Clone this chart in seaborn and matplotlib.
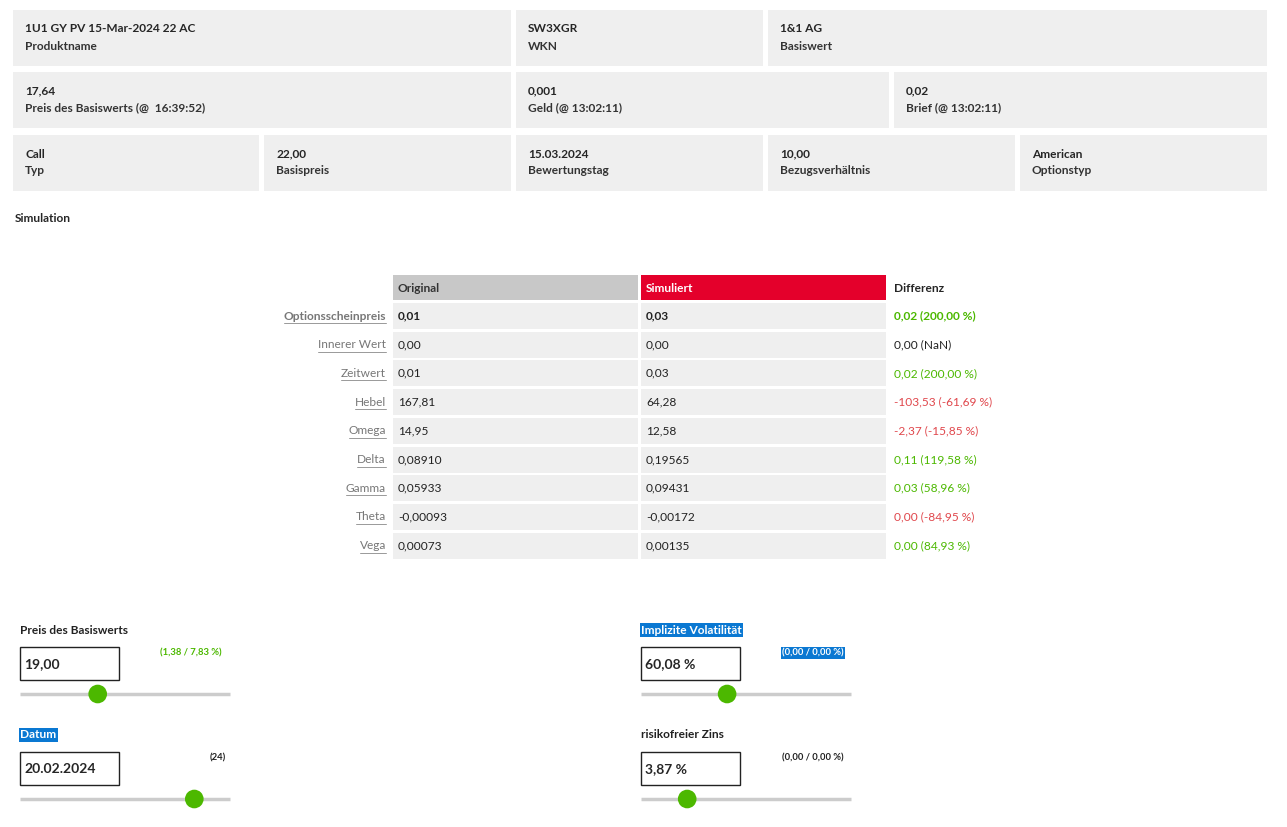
import matplotlib
matplotlib.use("Agg")
import matplotlib.pyplot as plt
import seaborn as sns
import pandas as pd
from matplotlib.patches import Rectangle

sns.set_theme(style="white", font="Lato")

# header info boxes: (value, label) per row
info_row1 = [("1U1 GY PV 15-Mar-2024 22 AC", "Produktname"), ("SW3XGR", "WKN"), ("1&1 AG", "Basiswert")]
info_row2 = [("17,64", "Preis des Basiswerts (@  16:39:52)"), ("0,001", "Geld (@ 13:02:11)"), ("0,02", "Brief (@ 13:02:11)")]
info_row3 = [("Call", "Typ"), ("22,00", "Basispreis"), ("15.03.2024", "Bewertungstag"),
             ("10,00", "Bezugsverhältnis"), ("American", "Optionstyp")]

# simulation table
row_names = ["Optionsscheinpreis", "Innerer Wert", "Zeitwert", "Hebel", "Omega",
             "Delta", "Gamma", "Theta", "Vega"]
original = ["0,01", "0,00", "0,01", "167,81", "14,95", "0,08910", "0,05933", "-0,00093", "0,00073"]
simuliert = ["0,03", "0,00", "0,03", "64,28", "12,58", "0,19565", "0,09431", "-0,00172", "0,00135"]
differenz = ["0,02 (200,00 %)", "0,00 (NaN)", "0,02 (200,00 %)", "-103,53 (-61,69 %)", "-2,37 (-15,85 %)",
             "0,11 (119,58 %)", "0,03 (58,96 %)", "0,00 (-84,95 %)", "0,00 (84,93 %)"]
diff_sign = [1, 0, 1, -1, -1, 1, 1, -1, 1]

# sliders
slider_labels = ["Preis des Basiswerts", "Datum", "Implizite Volatilität", "risikofreier Zins"]
slider_values = ["19,00", "20.02.2024", "60,08 %", "3,87 %"]
slider_changes = ["(1,38 / 7,83 %)", "(24)", "(0,00 / 0,00 %)", "(0,00 / 0,00 %)"]
slider_pos = [0.37, 0.83, 0.41, 0.22]  # fraction along the track

BOX = "#efefef"
GREEN = "#4cb800"
RED = "#e0474c"
BLUE = "#0a78d2"
FS = 8.6

fig = plt.figure(figsize=(12.87, 8.27), dpi=100)
ax = fig.add_axes([0, 0, 1, 1])
ax.set_xlim(0, 1287)
ax.set_ylim(827, 0)
ax.axis("off")


def info_row(items, xs, y0, h=56):
    for (val, lab), (x0, x1) in zip(items, xs):
        ax.add_patch(Rectangle((x0, y0), x1 - x0, h, color=BOX, lw=0))
        ax.text(x0 + 12, y0 + 19, val, fontsize=FS, weight="bold", va="center")
        ax.text(x0 + 12, y0 + 36, lab, fontsize=FS, weight="bold", va="center", color="#333333")


info_row(info_row1, [(13, 511), (516, 763), (768, 1267)], 10)
info_row(info_row2, [(13, 511), (516, 889), (894, 1267)], 72)
info_row(info_row3, [(13, 259), (264, 511), (516, 763), (768, 1015), (1020, 1267)], 135)

ax.text(15, 219, "Simulation", fontsize=FS, weight="bold", va="center")

# table header
ax.add_patch(Rectangle((393, 275), 245, 25, color="#c8c8c8", lw=0))
ax.add_patch(Rectangle((641, 275), 245, 25, color="#e4002b", lw=0))
ax.text(398, 288, "Original", fontsize=FS, weight="bold", va="center", color="#333333")
ax.text(646, 288, "Simuliert", fontsize=FS, weight="bold", va="center", color="white")
ax.text(894, 288, "Differenz", fontsize=FS, weight="bold", va="center")

renderer = fig.canvas.get_renderer()
for i, name in enumerate(row_names):
    yc = 316 + i * 28.7
    w = "bold" if i == 0 else "normal"
    ax.add_patch(Rectangle((393, yc - 13), 245, 26, color=BOX, lw=0))
    ax.add_patch(Rectangle((641, yc - 13), 245, 26, color=BOX, lw=0))
    t = ax.text(386, yc, name, fontsize=FS, ha="right", va="center", color="#777777", weight=w)
    # underline matching the text width
    width = t.get_window_extent(renderer=renderer).width
    ax.plot([386 - width, 386], [yc + 7, yc + 7], color="#999999", lw=0.7)
    ax.text(398, yc, original[i], fontsize=FS, va="center", weight=w, color="#222222")
    ax.text(646, yc, simuliert[i], fontsize=FS, va="center", weight=w, color="#222222")
    col = {1: GREEN, 0: "#222222", -1: RED}[diff_sign[i]]
    ax.text(894, yc, differenz[i], fontsize=FS, va="center", weight=w, color=col)

# sliders
slider_x = [20, 20, 641, 641]
slider_y = [630, 735, 630, 735]
highlight = [False, True, True, False]
chg_x = [160, 210, 782, 782]
dots = pd.DataFrame({"x": [slider_x[k] + slider_pos[k] * 210 for k in range(4)],
                     "y": [slider_y[k] + 64 for k in range(4)]})
for k in range(4):
    x0, y0 = slider_x[k], slider_y[k]
    lab = ax.text(x0, y0, slider_labels[k], fontsize=FS, weight="bold", va="center",
                  color="white" if highlight[k] else "#222222")
    if highlight[k]:
        lab.set_bbox(dict(facecolor=BLUE, edgecolor="none", pad=1))
    ax.add_patch(Rectangle((x0, y0 + 17), 99, 33, fill=False, ec="#222222", lw=1))
    ax.text(x0 + 4, y0 + 34, slider_values[k], fontsize=10, weight="bold", va="center")
    ch = ax.text(chg_x[k], y0 + 23, slider_changes[k], fontsize=6.8, weight="bold", va="center",
                 color=GREEN if k == 0 else ("white" if k == 2 else "#222222"))
    if k == 2:
        ch.set_bbox(dict(facecolor=BLUE, edgecolor="none", pad=1))
    ax.plot([x0, x0 + 210], [y0 + 64, y0 + 64], color="#cccccc", lw=2.5, solid_capstyle="butt")

sns.scatterplot(data=dots, x="x", y="y", ax=ax, s=180, color=GREEN, edgecolor="none", zorder=5)
ax.set_xlabel("")
ax.set_ylabel("")
ax.set_xlim(0, 1287)
ax.set_ylim(827, 0)
ax.axis("off")

fig.savefig("out.png", dpi=100)
